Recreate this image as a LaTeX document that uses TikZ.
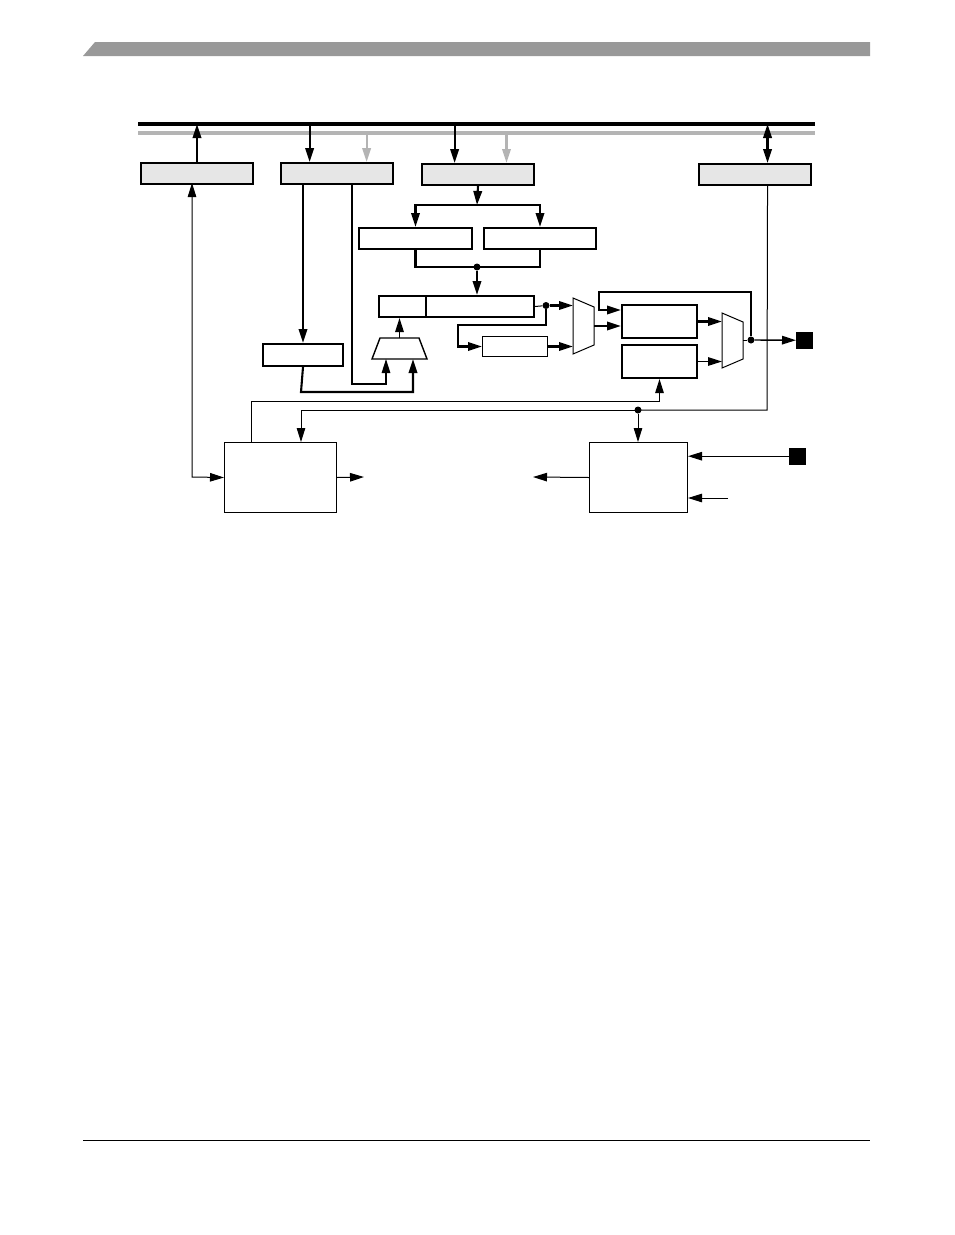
\documentclass[tikz,border=0pt]{standalone}
\usetikzlibrary{arrows.meta,calc}
\definecolor{hdrgray}{HTML}{999999}
\definecolor{busgray}{HTML}{B4B4B4}
\definecolor{boxgray}{HTML}{E6E6E6}
\tikzset{
  tip/.tip={Triangle[length=14pt,width=8.5pt]},
  gbox/.style={draw,line width=2pt,fill=boxgray,inner sep=0pt,anchor=north west},
  wbox/.style={draw,line width=2pt,fill=white,inner sep=0pt,anchor=north west},
  tbox/.style={draw,line width=1pt,fill=white,inner sep=0pt,anchor=north west},
  pad/.style={draw,fill=black,inner sep=0pt,minimum width=16pt,minimum height=16pt,anchor=north west},
  thk/.style={line width=2.1pt},
  thn/.style={line width=1pt},
  mid/.style={line width=1.4pt},
  dotted node/.style={circle,fill=black,inner sep=0pt,minimum size=7pt},
}
\begin{document}
\begin{tikzpicture}[x=1pt,y=-1pt]
\useasboundingbox (0,0) rectangle (954,1235);
% header band and footer rule
\fill[hdrgray] (95,42) -- (870,42) -- (870,56) -- (83,56) -- cycle;
\coordinate (f0) at (83,1140); \coordinate (f1) at (870,1140);
\draw[line width=0.8pt] (f0) -- (f1);
% buses
\coordinate (bk0) at (138,124); \coordinate (bk1) at (815,124);
\coordinate (bg0) at (138,133); \coordinate (bg1) at (815,133);
\draw[line width=3.2pt] (bk0) -- (bk1);
\draw[line width=3.2pt,busgray] (bg0) -- (bg1);
% top boxes
\node[gbox,minimum width=112pt,minimum height=21pt] (b1) at (140,162) {};
\node[gbox,minimum width=112pt,minimum height=21pt] (b2) at (280,162) {};
\node[gbox,minimum width=112pt,minimum height=21pt] (b3) at (421,163) {};
\node[gbox,minimum width=112pt,minimum height=21pt] (b4) at (698,163) {};
% inner boxes
\node[wbox,minimum width=113pt,minimum height=21pt] (m1) at (358,227) {};
\node[wbox,minimum width=112pt,minimum height=21pt] (m2) at (483,227) {};
\node[wbox,minimum width=47pt,minimum height=21pt] (rga) at (378,295) {};
\node[wbox,minimum width=108pt,minimum height=21pt] (rgb) at (425,295) {};
\node[wbox,minimum width=80pt,minimum height=22pt] (s1) at (262,343) {};
\node[tbox,minimum width=65pt,minimum height=20pt] (s2) at (482,336) {};
\node[wbox,minimum width=75pt,minimum height=33pt] (ba) at (621,304) {};
\node[wbox,minimum width=75pt,minimum height=33pt] (bb) at (621,344) {};
\node[tbox,minimum width=112pt,minimum height=70pt] (lb) at (224,442) {};
\node[tbox,minimum width=98pt,minimum height=70pt] (rb) at (589,442) {};
\node[pad] (sq1) at (796,332) {};
\node[pad] (sq2) at (789,448) {};
% adder trapezoid and muxes
\coordinate (tr1) at (372,359); \coordinate (tr2) at (427,359);
\coordinate (tr3) at (419,338); \coordinate (tr4) at (380,338);
\draw[mid] (tr1) -- (tr2) -- (tr3) -- (tr4) -- cycle;
\coordinate (mx1a) at (573,298); \coordinate (mx1b) at (594,307);
\coordinate (mx1c) at (594,345); \coordinate (mx1d) at (573,354);
\draw[thn] (mx1a) -- (mx1b) -- (mx1c) -- (mx1d) -- cycle;
\coordinate (mx2a) at (722,313); \coordinate (mx2b) at (743,322);
\coordinate (mx2c) at (743,359); \coordinate (mx2d) at (722,368);
\draw[thn] (mx2a) -- (mx2b) -- (mx2c) -- (mx2d) -- cycle;
% bus connections
\draw[thk,-tip] (b1.north) -- (b1.north |- bk0);
\coordinate (b2k) at ($(b2.north west)!0.26!(b2.north east)$);
\coordinate (b2g) at ($(b2.north west)!0.76!(b2.north east)$);
\draw[thk,-tip] (b2k |- bk0) -- (b2k);
\draw[thk,busgray,-tip] (b2g |- bg0) -- (b2g);
\coordinate (b3k) at ($(b3.north west)!0.295!(b3.north east)$);
\coordinate (b3g) at ($(b3.north west)!0.75!(b3.north east)$);
\draw[thk,-tip] (b3k |- bk0) -- (b3k);
\draw[thk,busgray,-tip] (b3g |- bg0) -- (b3g);
\coordinate (b4k) at ($(b4.north west)!0.61!(b4.north east)$);
\draw[thk,tip-tip] (b4k) -- (b4k |- bk0);
% b3 split to m1 / m2
\coordinate (split) at (477,205);
\draw[thk,-tip] (b3.south) -- (split);
\draw[thk,tip-tip] (m1.north) -- (m1.north |- split) -- (m2.north |- split) -- (m2.north);
% m1 / m2 merge to register
\coordinate (merge) at (477,267);
\draw[thk] (m1.south) -- (m1.south |- merge) -- (m2.south |- merge) -- (m2.south);
\node[dotted node] (dm) at (merge) {};
\draw[thk,-tip] (dm) -- (merge |- rgb.north);
% adder to register
\coordinate (trtop) at (399.5,338);
\draw[mid,-tip] (trtop) -- (trtop |- rga.south);
% b2 down to s1, s1 to adder
\coordinate (b2s) at (s1.north |- b2.south);
\draw[thk,-tip] (b2s) -- (s1.north);
\coordinate (s1r) at (301,392);
\coordinate (tin2) at (413,359);
\draw[thk,-tip] (s1.south) -- (s1r) -- (s1r -| tin2) -- (tin2);
\coordinate (b2t) at (352,183);
\coordinate (tin1) at (386,359);
\coordinate (b2c) at (352,384);
\draw[mid,-tip] (b2t) -- (b2c) -- (b2c -| tin1) -- (tin1);
% register output
\coordinate (rgo) at (546,305.5);
\node[dotted node] (d1) at (rgo) {};
\draw[thn] (rgb.east) -- (d1);
\draw[thk,-tip] (d1) -- (rgo -| mx1a);
\coordinate (lp1) at (458,325);
\draw[thk,-tip] (d1) -- (rgo |- lp1) -- (lp1) -- (lp1 |- s2.west) -- (s2.west);
\draw[thk,-tip] (s2.east) -- (s2.east -| mx1a);
% mux1 to box A
\coordinate (mx1o) at (594,326);
\draw[thk,-tip] (mx1o) -- (mx1o -| ba.west);
% box A/B to mux2
\draw[thk,-tip] (ba.east) -- (ba.east -| mx2a);
\draw[mid,-tip] (bb.east) -- (bb.east -| mx2a);
% mux2 output, feedback, pad
\coordinate (mx2o) at (743,340);
\coordinate (fb) at (751,340);
\node[dotted node] (d2) at (fb) {};
\draw[thn] (mx2o) -- (d2);
\draw[mid,-tip] (d2) -- (sq1.west);
\coordinate (fbt) at (599,292);
\coordinate (fbi) at (599,310);
\draw[thk,-tip] (d2) -- (fb |- fbt) -- (fbt) -- (fbi) -- (fbi -| ba.west);
% b4 control line
\coordinate (b4b) at (b4k |- b4.south);
\coordinate (c410) at (767,410);
\coordinate (lin) at (301,410);
\coordinate (rj) at (638,410);
\draw[thn] (b4b) -- (c410) -- (rj);
\draw[thn,-tip] (rj) -- (lin) -- (lin |- lb.north);
\node[dotted node] (d3) at (rj) {};
\draw[thn,-tip] (d3) -- (rj |- rb.north);
% L to box B
\coordinate (lt) at (251,442);
\coordinate (lu) at (251,401);
\draw[thn,-tip] (lt) -- (lu) -- (lu -| bb.south) -- (bb.south);
% b1 to L
\coordinate (b1s) at (192,183);
\coordinate (b1c) at (192,477);
\draw[thn,tip-tip] (b1s) -- (b1c) -- (lb.west);
% L / R outputs
\coordinate (lo) at (364,477);
\draw[thn,-tip] (lb.east) -- (lo);
\coordinate (ro) at (533,477);
\draw[thn,-tip] (rb.west) -- (ro);
\draw[thn,-tip] (sq2.west) -- (sq2.west -| rb.east);
\coordinate (ri) at (728,498);
\draw[thn,-tip] (ri) -- (ri -| rb.east);
\end{tikzpicture}
\end{document}
